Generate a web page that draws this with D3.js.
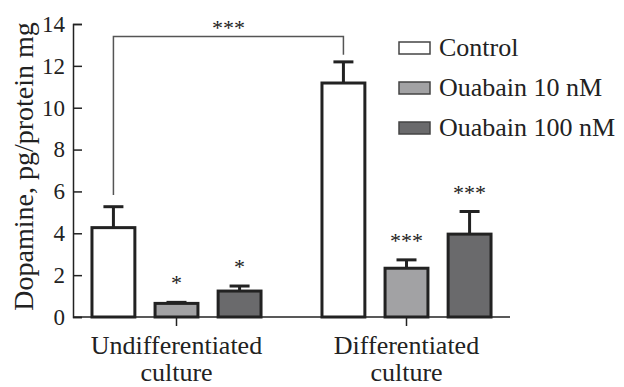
<!DOCTYPE html>
<html>
<head>
<meta charset="utf-8">
<script src="https://cdn.jsdelivr.net/npm/d3@7"></script>
<style>
  body { margin: 0; background: #fff; }
  text { font-family: "Liberation Serif", "Times New Roman", serif; fill: #222; }
</style>
</head>
<body>
<svg width="624" height="387"></svg>
<script>
// data
const groups = ["Undifferentiated culture", "Differentiated culture"];
const groupLines = [["Undifferentiated", "culture"], ["Differentiated", "culture"]];
const series = ["Control", "Ouabain 10 nM", "Ouabain 100 nM"];
const colors = ["#ffffff", "#a2a2a4", "#6a6a6c"];
const means = [[4.27, 0.65, 1.24], [11.18, 2.33, 3.96]];
const errs = [[1.0, 0.05, 0.24], [1.01, 0.40, 1.08]];
const stars = [["", "*", "*"], ["", "***", "***"]];
const yTicks = [0, 2, 4, 6, 8, 10, 12, 14];
// bracket between the two control bars
const bracket = {level: 13.4, left: 5.83, right: 12.53, label: "***"};

const svg = d3.select("svg");
const ink = "#222";
const serif = '"Liberation Serif", "Times New Roman", serif';

const y = d3.scaleLinear().domain([0, 14]).range([317, 24]);

const x0 = d3.scaleBand()
    .domain(groups)
    .range([73, 510])
    .paddingInner(0.265)
    .paddingOuter(0.0825);

const x1 = d3.scaleBand()
    .domain(series)
    .range([0, x0.bandwidth()])
    .paddingInner(0.32);

// y axis
const yAxis = d3.axisLeft(y)
    .tickValues(yTicks)
    .tickSize(-9)
    .tickPadding(8);

const yG = svg.append("g")
    .attr("transform", "translate(73,0)")
    .call(yAxis)
    .attr("font-family", null)
    .attr("font-size", null);
yG.select(".domain").attr("stroke", ink).attr("stroke-width", 1.5);
yG.selectAll(".tick line").attr("stroke", ink).attr("stroke-width", 1.5);
yG.selectAll(".tick text")
    .style("font-size", "23px")
    .style("font-family", serif)
    .attr("fill", ink);

// x baseline
svg.append("line")
    .attr("x1", 73).attr("x2", 510)
    .attr("y1", y(0)).attr("y2", y(0))
    .attr("stroke", ink).attr("stroke-width", 1.5);

// group ticks
svg.selectAll(".gtick")
    .data(groups)
    .enter().append("line")
    .attr("x1", d => x0(d) + x0.bandwidth() / 2)
    .attr("x2", d => x0(d) + x0.bandwidth() / 2)
    .attr("y1", y(0)).attr("y2", y(0) + 9)
    .attr("stroke", ink).attr("stroke-width", 1.5);

// group labels
groups.forEach(function(g, gi) {
    var t = svg.append("text")
        .attr("x", x0(g) + x0.bandwidth() / 2)
        .attr("y", 354)
        .attr("text-anchor", "middle")
        .attr("font-size", 26);
    groupLines[gi].forEach(function(line, li) {
        t.append("tspan")
            .attr("x", x0(g) + x0.bandwidth() / 2)
            .attr("dy", li === 0 ? 0 : 27)
            .text(line);
    });
});

// y title
svg.append("text")
    .attr("transform", "translate(33," + ((y(0) + y(14)) / 2 - 4) + ") rotate(-90)")
    .attr("text-anchor", "middle")
    .attr("font-size", 28)
    .text("Dopamine, pg/protein mg");

// bars
const rows = [];
groups.forEach(function(g, gi) {
    series.forEach(function(s, si) {
        rows.push({g: g, s: s, si: si, v: means[gi][si], e: errs[gi][si], star: stars[gi][si]});
    });
});

const barG = svg.append("g");

// error bars
barG.selectAll(".err")
    .data(rows)
    .enter().append("line")
    .attr("x1", d => x0(d.g) + x1(d.s) + x1.bandwidth() / 2)
    .attr("x2", d => x0(d.g) + x1(d.s) + x1.bandwidth() / 2)
    .attr("y1", d => y(d.v))
    .attr("y2", d => y(d.v + d.e))
    .attr("stroke", ink).attr("stroke-width", 3);

barG.selectAll(".cap")
    .data(rows)
    .enter().append("line")
    .attr("x1", d => x0(d.g) + x1(d.s) + x1.bandwidth() / 2 - 10)
    .attr("x2", d => x0(d.g) + x1(d.s) + x1.bandwidth() / 2 + 10)
    .attr("y1", d => y(d.v + d.e))
    .attr("y2", d => y(d.v + d.e))
    .attr("stroke", ink).attr("stroke-width", 3);

barG.selectAll("rect")
    .data(rows)
    .enter().append("rect")
    .attr("x", d => x0(d.g) + x1(d.s))
    .attr("width", x1.bandwidth())
    .attr("y", d => y(d.v))
    .attr("height", d => y(0) - y(d.v))
    .attr("fill", d => colors[d.si])
    .attr("stroke", ink)
    .attr("stroke-width", 3);

// significance stars
barG.selectAll(".star")
    .data(rows.filter(d => d.star))
    .enter().append("text")
    .attr("x", d => x0(d.g) + x1(d.s) + x1.bandwidth() / 2)
    .attr("y", d => y(d.v + d.e) - 12)
    .attr("text-anchor", "middle")
    .attr("font-size", 22)
    .attr("fill", "#444")
    .text(d => d.star);

// bracket
const cx1 = x0(groups[0]) + x1(series[0]) + x1.bandwidth() / 2;
const cx2 = x0(groups[1]) + x1(series[0]) + x1.bandwidth() / 2;
svg.append("path")
    .attr("d", d3.line()([
        [cx1, y(bracket.left)],
        [cx1, y(bracket.level)],
        [cx2, y(bracket.level)],
        [cx2, y(bracket.right)]
    ]))
    .attr("fill", "none")
    .attr("stroke", "#555")
    .attr("stroke-width", 1.5);

svg.append("text")
    .attr("x", (cx1 + cx2) / 2)
    .attr("y", y(bracket.level) - 2)
    .attr("text-anchor", "middle")
    .attr("font-size", 22)
    .attr("fill", "#444")
    .text(bracket.label);

// legend
const leg = svg.append("g").attr("transform", "translate(399,0)");
series.forEach(function(s, i) {
    const cy = 48 + i * 40;
    leg.append("rect")
        .attr("x", 0).attr("y", cy - 6)
        .attr("width", 31).attr("height", 12)
        .attr("fill", colors[i])
        .attr("stroke", "#444").attr("stroke-width", 1.5);
    leg.append("text")
        .attr("x", 40).attr("y", cy + 8)
        .attr("font-size", 26)
        .text(s);
});
</script>
</body>
</html>
